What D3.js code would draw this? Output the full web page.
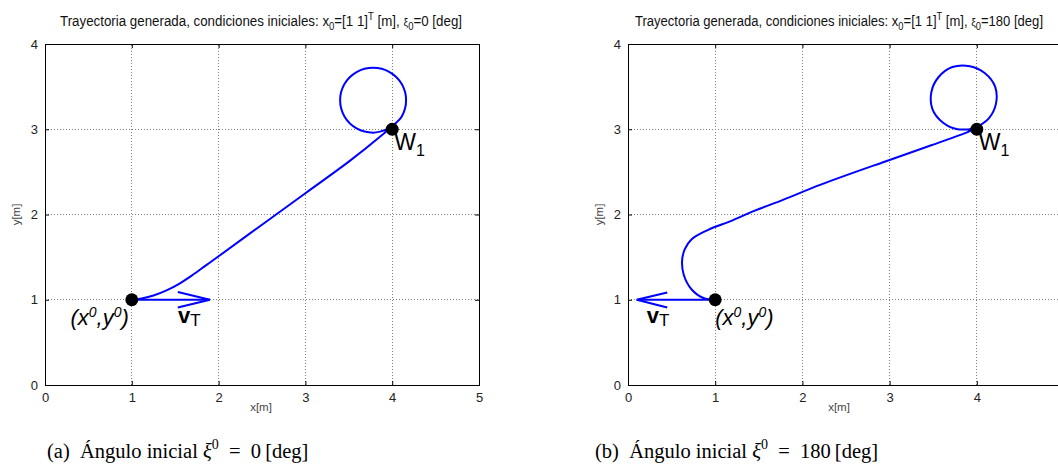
<!DOCTYPE html>
<html><head><meta charset="utf-8">
<script src="https://cdn.jsdelivr.net/npm/d3@7"></script>
<style>body{margin:0;background:#fff}svg{display:block}</style>
</head><body>
<svg id="c" width="1058" height="473"></svg>
<script>
// ---- data ----
const xTicks = [0, 1, 2, 3, 4, 5];
const yTicks = [0, 1, 2, 3, 4];
const gridX = [1, 2, 3, 4];
const gridY = [1, 2, 3];
const startPoint = [1, 1];
const waypoint = [4, 3];
const trajA = [[1,1],[1.1,1.012],[1.25,1.05],[1.4,1.11],[1.55,1.19],[1.7,1.29],[1.85,1.4],[2.0,1.51],[2.5,1.88],[3.0,2.25],[3.5,2.62],[3.88,2.93],[3.97,3.01],
  [4.11,3.15],[4.16,3.34],[4.11,3.53],[3.97,3.67],[3.78,3.72],[3.59,3.67],[3.45,3.53],[3.40,3.34],[3.45,3.15],[3.59,3.01],[3.78,2.96],[3.97,3.01]];
const trajB = [[1,1],[0.865,1.02],[0.73,1.12],[0.64,1.29],[0.62,1.45],[0.65,1.59],[0.73,1.71],[0.92,1.82],[1.17,1.92],[1.44,2.04],[1.75,2.16],[2.21,2.35],[3.0,2.64],[3.5,2.82],[3.9,2.97],[3.98,3.01],
  [4.14,3.13],[4.22,3.30],[4.21,3.50],[4.09,3.66],[3.92,3.74],[3.72,3.73],[3.56,3.61],[3.48,3.44],[3.49,3.24],[3.61,3.08],[3.78,3.00],[3.98,3.01]];
const arrowA = [[1,1],[1.9,1]];
const arrowB = [[1,1],[0.1,1]];
const headOffsetA = [[1.53,1.09],[1.53,0.91]];
const headOffsetB = [[0.45,1.085],[0.45,0.91]];
const xi0 = ["0", "180"];
const captionLetters = ["(a)", "(b)"];

// ---- layout ----
const W = 1058;
const svg = d3.select("#c");
const panels = [
  {x0:45, x1:479, traj:trajA, arrow:arrowA, head:headOffsetA, xi:xi0[0], cap:captionLetters[0], titleX:261, titleLen:402, capX:47, labelX:261,
   startLabel:{dx:-3, anchor:"end"}, vLabel:{dx:-32}},
  {x0:628, x1:1064, traj:trajB, arrow:arrowB, head:headOffsetB, xi:xi0[1], cap:captionLetters[1], titleX:839, titleLen:408, capX:595, labelX:839,
   startLabel:{dx:0, anchor:"start"}, vLabel:{dx:10}}
];
const yTop = 44, yBot = 385;
const sans = "'Liberation Sans', Arial, Helvetica, sans-serif";

panels.forEach((p, i) => {
  const x = d3.scaleLinear().domain([0,5]).range([p.x0, p.x1]);
  const y = d3.scaleLinear().domain([0,4]).range([yBot, yTop]);
  const g = svg.append("g");

  // grid
  g.selectAll(".gx").data(gridX).join("line")
    .attr("x1", d => x(d)).attr("x2", d => x(d)).attr("y1", yBot).attr("y2", yTop)
    .attr("stroke", "#808080").attr("stroke-width", 1).attr("stroke-dasharray", "1,2").attr("shape-rendering","crispEdges");
  g.selectAll(".gy").data(gridY).join("line")
    .attr("y1", d => y(d)).attr("y2", d => y(d)).attr("x1", p.x0).attr("x2", p.x1)
    .attr("stroke", "#808080").attr("stroke-width", 1).attr("stroke-dasharray", "1,2").attr("shape-rendering","crispEdges");

  // axes with inward ticks
  const visibleX = xTicks.filter(d => x(d) < W - 4);
  const ax = d3.axisBottom(x).tickValues(xTicks).tickSize(-4).tickPadding(8)
    .tickFormat(d => visibleX.includes(d) ? d3.format("d")(d) : "");
  const ay = d3.axisLeft(y).tickValues(yTicks).tickSize(-4).tickPadding(7).tickFormat(d3.format("d"));
  const axT = d3.axisTop(x).tickValues(xTicks).tickSize(-4).tickFormat("");
  const ayR = d3.axisRight(y).tickValues(yTicks).tickSize(-4).tickFormat("");
  const styleAxis = s => {
    s.select(".domain").attr("stroke", "#000");
    s.selectAll(".tick line").attr("stroke", "#000");
    s.selectAll("text").attr("fill", "#222").style("font-family", sans).style("font-size", "13px");
  };
  g.append("g").attr("transform", `translate(0,${yBot})`).call(ax).call(styleAxis);
  g.append("g").attr("transform", `translate(${p.x0},0)`).call(ay).call(styleAxis);
  g.append("g").attr("transform", `translate(0,${yTop})`).call(axT).call(styleAxis);
  g.append("g").attr("transform", `translate(${p.x1},0)`).call(ayR).call(styleAxis);

  // axis labels
  g.append("text").attr("x", p.labelX).attr("y", 411)
    .attr("text-anchor", "middle").attr("fill", "#444").style("font-family", sans).style("font-size", "11.5px").text("x[m]");
  g.append("text").attr("transform", `translate(${p.x0 - 25},${(yTop + yBot) / 2}) rotate(-90)`)
    .attr("text-anchor", "middle").attr("fill", "#444").style("font-family", sans).style("font-size", "11.5px").text("y[m]");

  // title
  const t = g.append("text").attr("x", p.titleX).attr("y", 26).attr("text-anchor", "middle")
    .attr("fill", "#111").style("font-family", sans).style("font-size", "14px")
    .attr("textLength", p.titleLen).attr("lengthAdjust", "spacingAndGlyphs");
  t.append("tspan").text("Trayectoria generada, condiciones iniciales: x");
  t.append("tspan").attr("dy", 4).style("font-size", "10px").text("0");
  t.append("tspan").attr("dy", -4).text("=[1 1]");
  t.append("tspan").attr("dy", -6).style("font-size", "10px").text("T");
  t.append("tspan").attr("dy", 6).text(" [m], ");
  t.append("tspan").style("font-size", "11px").text("ξ");
  t.append("tspan").attr("dy", 4).style("font-size", "10px").text("0");
  t.append("tspan").attr("dy", -4).text("=" + p.xi + " [deg]");

  // trajectory
  const line = d3.line().x(d => x(d[0])).y(d => y(d[1])).curve(d3.curveCatmullRom.alpha(0.5));
  g.append("path").attr("d", line(p.traj)).attr("fill", "none").attr("stroke", "#0000ff").attr("stroke-width", 2);

  // arrow (quiver)
  const straight = d3.line().x(d => x(d[0])).y(d => y(d[1]));
  g.append("path").attr("d", straight(p.arrow)).attr("fill", "none").attr("stroke", "#0000ff").attr("stroke-width", 2);
  g.append("path").attr("d", straight([p.head[0], p.arrow[1], p.head[1]])).attr("fill", "none")
    .attr("stroke", "#0000ff").attr("stroke-width", 2).attr("stroke-linejoin", "miter");

  // points
  [startPoint, waypoint].forEach(pt => {
    g.append("circle").attr("cx", x(pt[0])).attr("cy", y(pt[1])).attr("r", 6.5).attr("fill", "#000");
  });

  // annotation labels
  const sl = g.append("text").attr("x", x(startPoint[0]) + p.startLabel.dx).attr("y", y(startPoint[1]) + 25)
    .attr("text-anchor", p.startLabel.anchor).attr("fill", "#000")
    .style("font-family", sans).style("font-size", "22px").style("font-style", "italic");
  sl.append("tspan").text("(x");
  sl.append("tspan").attr("dy", -8).style("font-size", "14px").text("0");
  sl.append("tspan").attr("dy", 8).text(",y");
  sl.append("tspan").attr("dy", -8).style("font-size", "14px").text("0");
  sl.append("tspan").attr("dy", 8).text(")");

  const vl = g.append("text").attr("x", x(p.arrow[1][0]) + p.vLabel.dx).attr("y", y(startPoint[1]) + 23)
    .attr("fill", "#000").style("font-family", sans).style("font-size", "22px");
  vl.append("tspan").style("font-weight", "bold").text("v");
  vl.append("tspan").attr("dy", 3).style("font-size", "17px").text("T");

  const wl = g.append("text").attr("x", x(waypoint[0]) + 2).attr("y", y(waypoint[1]) + 21)
    .attr("fill", "#000").style("font-family", sans).style("font-size", "23px");
  wl.append("tspan").text("W");
  wl.append("tspan").attr("dy", 6).style("font-size", "16px").text("1");

  // caption
  const c = svg.append("text").attr("x", p.capX).attr("y", 458).attr("fill", "#000")
    .style("font-family", "'Liberation Serif', 'Times New Roman', serif").style("font-size", "20.5px");
  c.append("tspan").text(p.cap + "\u00a0 Ángulo inicial ");
  c.append("tspan").style("font-style", "italic").text("ξ");
  c.append("tspan").attr("dy", -9).style("font-size", "14px").text("0");
  c.append("tspan").attr("dy", 9).text("\u2002=\u2002" + p.xi + "\u2009[deg]");
});
</script>
</body></html>
